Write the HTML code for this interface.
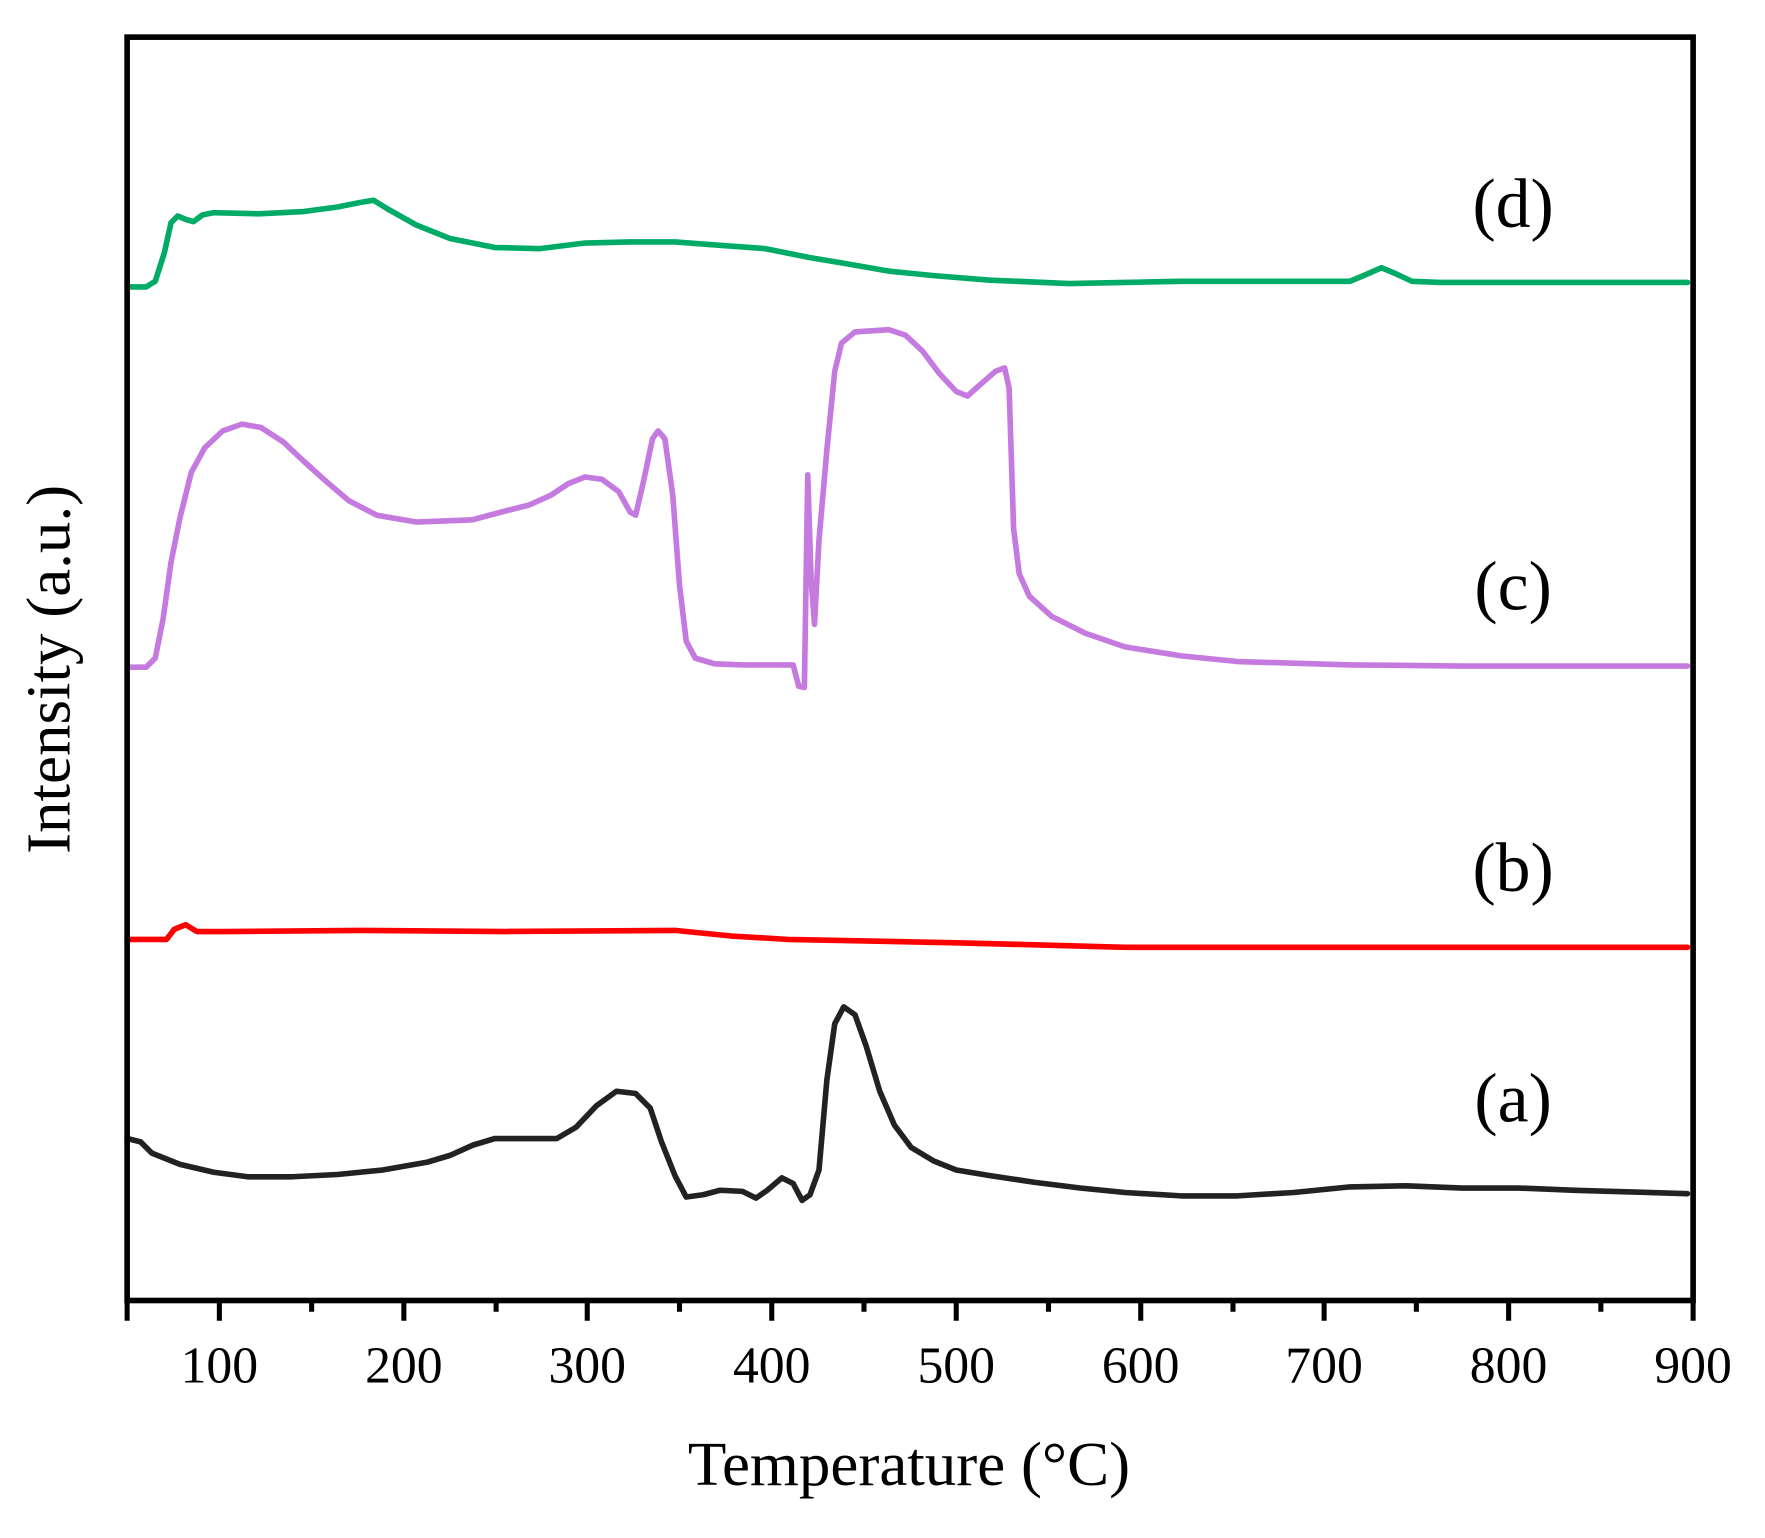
<!DOCTYPE html>
<html><head><meta charset="utf-8"><style>html,body{margin:0;padding:0;background:#fff}svg{display:block}</style></head>
<body>
<svg width="1765" height="1538" viewBox="0 0 1568.9 1367.1" xmlns="http://www.w3.org/2000/svg" font-family="Liberation Serif, serif">
<rect width="1568.9" height="1367.1" fill="#fff"/>
<g fill="none" stroke-linejoin="round" stroke-linecap="round" stroke-width="5">
<polyline stroke="#00ab66" points="113,255 130,255 138,250 146,225 152,198 158,192 165,195 172,197 180,191 190,189 230,190 270,188 300,184 320,180 332,178 345,186 370,200 400,212 440,220 480,221 520,216 560,215 600,215 640,218 680,221 720,229 750,234 790,241 830,245 880,249 950,252 1050,250 1150,250 1200,250 1212,245 1228,238 1240,243 1255,250 1280,251 1500,251"/>
<polyline stroke="#c57ae0" points="113,593 130,593 138,585 145,550 152,500 160,460 170,420 182,398 198,383 215,377 232,380 252,393 270,410 290,428 310,445 335,458 370,464 420,462 450,454 470,449 490,440 505,430 520,424 535,426 550,437 560,455 565,458 572,428 580,390 585,383 591,390 598,440 604,520 610,570 618,585 635,590 660,591 690,591 705,591 710,610 715,611 718,422 721,515 724,555 728,480 735,400 742,330 748,305 760,295 790,293 805,298 820,312 835,332 850,348 860,352 870,343 885,330 893,327 897,345 901,470 906,510 915,530 935,548 965,563 1000,575 1050,583 1100,588 1200,591 1300,592 1500,592"/>
<polyline stroke="#ff0000" points="113,835 148,835 155,826 165,822 175,828 200,828 320,827 450,828 600,827 650,832 700,835 850,838 1000,842 1200,842 1500,842"/>
<polyline stroke="#222" points="113,1012 125,1015 135,1025 160,1035 190,1042 220,1046 260,1046 300,1044 340,1040 380,1033 400,1027 420,1018 440,1012 470,1012 495,1012 512,1002 530,983 548,970 565,972 578,985 588,1015 600,1045 610,1064 625,1062 640,1058 660,1059 672,1065 682,1058 695,1047 705,1052 713,1067 720,1062 728,1040 735,960 742,910 750,895 760,902 770,930 782,970 795,1000 810,1020 830,1032 850,1040 880,1045 920,1051 960,1056 1000,1060 1050,1063 1100,1063 1150,1060 1200,1055 1250,1054 1300,1056 1350,1056 1400,1058 1500,1061"/>
</g>
<g stroke="#000" stroke-width="5" fill="none">
<rect x="113" y="33" width="1392" height="1123"/>
</g>
<g stroke="#000" stroke-width="4.5">
<line x1="113" y1="1156" x2="113" y2="1174"/>
<line x1="195" y1="1156" x2="195" y2="1174"/><line x1="359" y1="1156" x2="359" y2="1174"/><line x1="522" y1="1156" x2="522" y2="1174"/><line x1="686" y1="1156" x2="686" y2="1174"/><line x1="850" y1="1156" x2="850" y2="1174"/><line x1="1014" y1="1156" x2="1014" y2="1174"/><line x1="1177" y1="1156" x2="1177" y2="1174"/><line x1="1341" y1="1156" x2="1341" y2="1174"/><line x1="1505" y1="1156" x2="1505" y2="1174"/>
<line x1="277" y1="1156" x2="277" y2="1166"/><line x1="441" y1="1156" x2="441" y2="1166"/><line x1="604" y1="1156" x2="604" y2="1166"/><line x1="768" y1="1156" x2="768" y2="1166"/><line x1="932" y1="1156" x2="932" y2="1166"/><line x1="1096" y1="1156" x2="1096" y2="1166"/><line x1="1259" y1="1156" x2="1259" y2="1166"/><line x1="1423" y1="1156" x2="1423" y2="1166"/>
</g>
<g font-size="46" text-anchor="middle" fill="#000">
<text x="195" y="1229">100</text><text x="359" y="1229">200</text><text x="522" y="1229">300</text><text x="686" y="1229">400</text><text x="850" y="1229">500</text><text x="1014" y="1229">600</text><text x="1177" y="1229">700</text><text x="1341" y="1229">800</text><text x="1505" y="1229">900</text>
</g>
<text x="808" y="1320" font-size="56" text-anchor="middle">Temperature (°C)</text>
<text transform="translate(62,595) rotate(-90)" font-size="56" text-anchor="middle">Intensity (a.u.)</text>
<g font-size="62" text-anchor="middle">
<text x="1345" y="202">(d)</text><text x="1345" y="542">(c)</text><text x="1345" y="792">(b)</text><text x="1345" y="997">(a)</text>
</g>
</svg>
</body></html>
